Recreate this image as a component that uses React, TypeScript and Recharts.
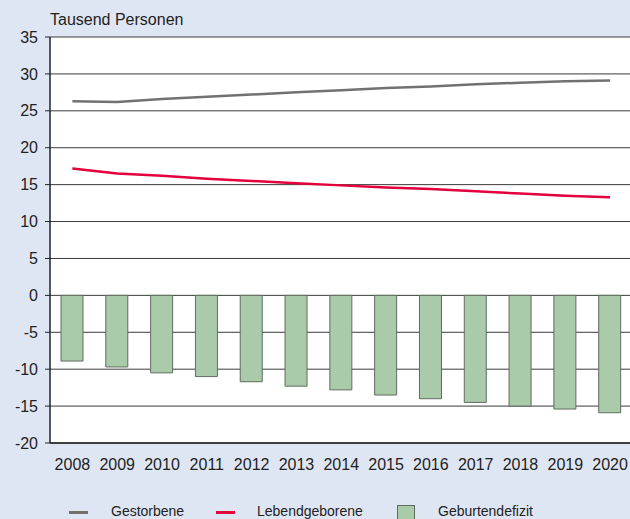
import React from 'react';
import { ComposedChart, Bar, Line, XAxis, YAxis, CartesianGrid } from 'recharts';

const years = ['2008', '2009', '2010', '2011', '2012', '2013', '2014', '2015', '2016', '2017', '2018', '2019', '2020'];
const gestorbene = [26.3, 26.2, 26.6, 26.9, 27.2, 27.5, 27.8, 28.1, 28.3, 28.6, 28.8, 29.0, 29.1];
const lebendgeborene = [17.2, 16.5, 16.2, 15.8, 15.5, 15.2, 14.9, 14.6, 14.4, 14.1, 13.8, 13.5, 13.3];
const geburtendefizit = [-8.9, -9.7, -10.5, -11.0, -11.7, -12.3, -12.8, -13.5, -14.0, -14.5, -15.0, -15.4, -15.9];
const yTicks = [-20, -15, -10, -5, 0, 5, 10, 15, 20, 25, 30, 35];

const data = years.map((year, i) => ({
    year,
    gestorbene: gestorbene[i],
    lebendgeborene: lebendgeborene[i],
    geburtendefizit: geburtendefizit[i]
}));

const BG = '#dfe6f3';
const GRAY = '#737170';
const RED = '#e4003c';
const GREEN = '#a9cba9';
const FONT = '"Liberation Sans", Arial, sans-serif';

const legendItems = [
    { label: 'Gestorbene', kind: 'line', color: GRAY, x: 69, textX: 111 },
    { label: 'Lebendgeborene', kind: 'line', color: RED, x: 216, textX: 257 },
    { label: 'Geburtendefizit', kind: 'box', color: GREEN, x: 397, textX: 438 }
];

export default function App() {
    return (
        <div
            style={{
                position: 'absolute',
                left: 0,
                top: 0,
                width: 630,
                height: 519,
                overflow: 'hidden',
                background: BG,
                fontFamily: FONT
            }}
        >
            <div style={{ position: 'absolute', left: 50, top: 11, fontSize: 16, color: '#222' }}>
                Tausend Personen
            </div>
            <ComposedChart
                width={640}
                height={519}
                data={data}
                margin={{ top: 37, right: 7.5, bottom: 46, left: 8 }}
                style={{ position: 'absolute', left: 0, top: 0 }}
            >
                <CartesianGrid vertical={false} stroke="#3a3a3a" fill="#ffffff" fillOpacity={1} />
                <XAxis
                    dataKey="year"
                    axisLine={{ stroke: '#222', strokeWidth: 1.5 }}
                    tickLine={false}
                    tick={{ fill: '#222', fontSize: 16, fontFamily: FONT }}
                    tickMargin={10}
                    height={30}
                    interval={0}
                />
                <YAxis
                    domain={[-20, 35]}
                    ticks={yTicks}
                    width={42}
                    axisLine={{ stroke: '#222', strokeWidth: 1.5 }}
                    tickLine={{ stroke: '#222' }}
                    tickSize={5}
                    tickMargin={7}
                    tick={{ fill: '#222', fontSize: 16, fontFamily: FONT }}
                    allowDataOverflow
                />
                <Bar
                    dataKey="geburtendefizit"
                    fill={GREEN}
                    stroke="#5f6b5f"
                    strokeWidth={1}
                    barSize={22}
                    isAnimationActive={false}
                />
                <Line
                    dataKey="gestorbene"
                    stroke={GRAY}
                    strokeWidth={2.5}
                    dot={false}
                    type="linear"
                    isAnimationActive={false}
                />
                <Line
                    dataKey="lebendgeborene"
                    stroke={RED}
                    strokeWidth={2.5}
                    dot={false}
                    type="linear"
                    isAnimationActive={false}
                />
            </ComposedChart>
            {legendItems.map((item) => (
                <React.Fragment key={item.label}>
                    {item.kind === 'line' ? (
                        <div
                            style={{
                                position: 'absolute',
                                left: item.x,
                                top: 511,
                                width: 19,
                                height: 3,
                                background: item.color
                            }}
                        />
                    ) : (
                        <div
                            style={{
                                position: 'absolute',
                                left: item.x,
                                top: 505,
                                width: 16,
                                height: 14,
                                background: item.color,
                                border: '1px solid #5f6b5f'
                            }}
                        />
                    )}
                    <div
                        style={{
                            position: 'absolute',
                            left: item.textX,
                            top: 503,
                            fontSize: 14,
                            color: '#222',
                            whiteSpace: 'nowrap'
                        }}
                    >
                        {item.label}
                    </div>
                </React.Fragment>
            ))}
        </div>
    );
}
